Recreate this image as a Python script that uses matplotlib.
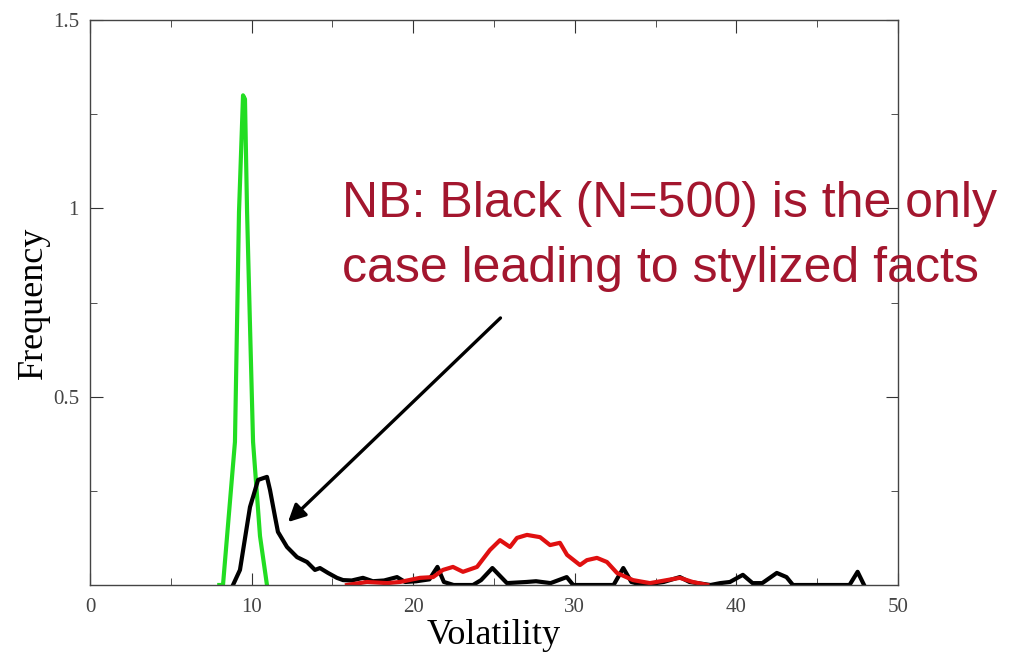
import numpy as np
import matplotlib
matplotlib.use("Agg")
import matplotlib.pyplot as plt
from matplotlib.ticker import MultipleLocator, FixedLocator

# green curve (narrow peak)
green_x = [8.0, 8.23, 8.97, 9.22, 9.47, 9.59, 9.72, 9.9, 10.09, 10.52, 10.95]
green_y = [0.0, 0.0, 0.38, 0.99, 1.30, 1.29, 0.99, 0.69, 0.38, 0.13, 0.0]

# black curve (N=500)
black_x = [8.85, 9.28, 9.9, 10.09, 10.4, 10.95, 11.14, 11.45, 11.63, 12.19, 12.81,
           13.43, 13.92, 14.23, 14.73, 15.28, 15.66, 16.2, 16.89, 17.5, 18.2, 19.0,
           19.5, 20.2, 21.0, 21.5, 21.9, 22.5, 23.7, 24.2, 24.9, 25.8, 27.0, 27.6,
           28.5, 29.5, 29.9, 32.4, 33.0, 33.5, 34.2, 35.5, 36.5, 37.1, 38.4, 39.0,
           39.6, 40.4, 41.0, 41.6, 42.5, 43.1, 43.5, 47.0, 47.5, 47.9]
black_y = [0.0, 0.04, 0.207, 0.234, 0.279, 0.287, 0.252, 0.181, 0.141, 0.101, 0.074,
           0.061, 0.040, 0.045, 0.032, 0.019, 0.013, 0.012, 0.019, 0.010, 0.012, 0.021,
           0.008, 0.010, 0.015, 0.048, 0.008, 0.0, 0.0, 0.013, 0.045, 0.005, 0.008, 0.010,
           0.005, 0.021, 0.0, 0.0, 0.045, 0.008, 0.0, 0.008, 0.021, 0.008, 0.0, 0.005,
           0.008, 0.027, 0.005, 0.005, 0.032, 0.021, 0.0, 0.0, 0.035, 0.0]

# red curve
red_x = [15.9, 17.14, 18.38, 19.18, 20.42, 21.23, 21.84, 22.46, 23.08, 23.95, 24.75,
         25.37, 25.99, 26.42, 27.04, 27.85, 28.47, 29.08, 29.52, 30.32, 30.75, 31.37,
         31.99, 32.61, 33.6, 34.65, 35.7, 36.5, 37.3, 38.2]
red_y = [0.0, 0.008, 0.005, 0.008, 0.019, 0.021, 0.040, 0.048, 0.035, 0.048, 0.093,
         0.119, 0.101, 0.125, 0.133, 0.127, 0.106, 0.112, 0.080, 0.053, 0.066, 0.072,
         0.061, 0.032, 0.013, 0.005, 0.013, 0.019, 0.008, 0.0]

note_lines = ["NB: Black (N=500) is the only", "case leading to stylized facts"]

fig = plt.figure(figsize=(10.12, 6.55), dpi=100)
ax = fig.add_axes([90 / 1012, 1 - 585 / 655, 808 / 1012, 565 / 655])

ax.plot(green_x, green_y, color="#22dd22", lw=3.0)
ax.plot(black_x, black_y, color="black", lw=3.0)
ax.plot(red_x, red_y, color="#e01010", lw=3.0)

ax.set_xlim(0, 50)
ax.set_ylim(0, 1.5)
ax.xaxis.set_major_locator(MultipleLocator(10))
ax.xaxis.set_minor_locator(MultipleLocator(5))
ax.yaxis.set_major_locator(FixedLocator([0.5, 1.0, 1.5]))
ax.yaxis.set_minor_locator(MultipleLocator(0.25))
ax.set_yticklabels(["0.5", "1", "1.5"])
ax.tick_params(which="both", direction="in", top=True, right=True,
               labelsize=15, colors="#333333", labelcolor="#444444")
ax.tick_params(which="major", length=9)
ax.tick_params(which="minor", length=5)
ax.tick_params(axis="x", pad=9)
ax.tick_params(axis="y", pad=8)
for lab in ax.get_xticklabels() + ax.get_yticklabels():
    lab.set_fontfamily("Liberation Serif")
for s in ax.spines.values():
    s.set_color("#444444")
    s.set_linewidth(1.0)

ax.set_xlabel("Volatility", fontsize=26, family="Liberation Serif", labelpad=2)
ax.set_ylabel("Frequency", fontsize=26, family="Liberation Serif", labelpad=2)

ax.annotate("", xy=(12.25, 0.167), xytext=(25.4, 0.709),
            arrowprops=dict(arrowstyle="-|>", color="black", lw=2.4,
                            mutation_scale=26, shrinkA=0, shrinkB=0))

ax.text(15.6, 0.925, note_lines[0] + "\n" + note_lines[1], fontsize=36,
        family="Liberation Sans", color="#a3162e", va="center", ha="left",
        linespacing=1.55, clip_on=False)

fig.savefig("out.png", dpi=100)
